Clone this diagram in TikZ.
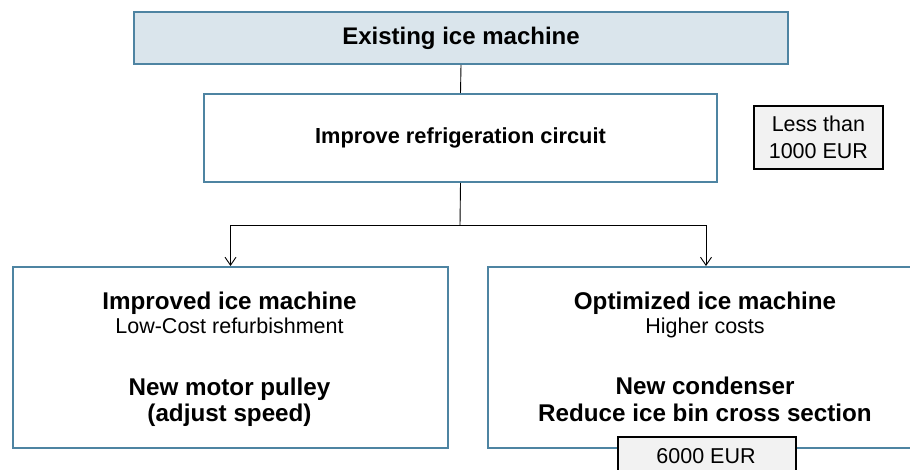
\documentclass[tikz,border=0pt]{standalone}
\usepackage{fontspec}
\setmainfont{Liberation Sans}
\usetikzlibrary{arrows.meta}
\definecolor{boxblue}{HTML}{4E84A2}
\definecolor{topfill}{HTML}{DAE5EC}
\definecolor{costfill}{HTML}{F2F2F2}
\tikzset{
  bluebox/.style={draw=boxblue, line width=2pt, rectangle, inner sep=0pt, anchor=north west},
  costbox/.style={draw=black, line width=1.8pt, fill=costfill, rectangle, inner sep=0pt, align=center, font=\fontsize{21.5}{26.5}\selectfont},
  conn/.style={draw=black, line width=0.9pt},
  arr/.style={conn, -{Straight Barb[length=8pt,width=11pt,line width=0.9pt]}},
  headtxt/.style={anchor=base, font=\fontsize{24.2}{27}\selectfont\bfseries, inner sep=0pt},
  subtxt/.style={anchor=base, font=\fontsize{21.5}{26}\selectfont, inner sep=0pt}
}
\begin{document}
\begin{tikzpicture}[x=1pt,y=-1pt]
\useasboundingbox (0,0) rectangle (910,470);
\clip (0,0) rectangle (910,470);

% top box
\node[bluebox, fill=topfill, minimum width=654pt, minimum height=52pt,
      font=\fontsize{24}{28}\selectfont\bfseries] (top) at (133,11) {Existing ice machine};

% refrigeration circuit
\node[bluebox, fill=white, minimum width=513pt, minimum height=88pt,
      font=\fontsize{21.8}{26}\selectfont\bfseries] (circ) at (203,93) {Improve refrigeration circuit};

% cost note
\node[costbox, minimum width=129pt, minimum height=63pt, anchor=north west] (less) at (753,105) {Less than\\1000 EUR};

% bottom boxes
\node[bluebox, fill=white, minimum width=435pt, minimum height=181pt] (left) at (12,266) {};
\node[bluebox, fill=white, minimum width=436pt, minimum height=181pt] (right) at (487,266) {};

% left box texts
\node[headtxt] (l1) at (229.5,309) {Improved ice machine};
\node[subtxt]  (l2) at (229.5,333.5) {Low-Cost refurbishment};
\node[headtxt] (l3) at (229.5,395.5) {New motor pulley};
\node[headtxt] (l4) at (229.5,421) {(adjust speed)};

% right box texts
\node[headtxt] (r1) at (705,309) {Optimized ice machine};
\node[subtxt]  (r2) at (705,333.5) {Higher costs};
\node[headtxt] (r3) at (705,394) {New condenser};
\node[headtxt] (r4) at (705,421.5) {Reduce ice bin cross section};

% cost box at bottom
\node[costbox, minimum width=178pt, minimum height=46pt, anchor=north west] (six) at (617,436) {};
\node[subtxt] (sixtxt) at (706,463.3) {6000 EUR};

% connectors
\coordinate (split) at (460,225);
\draw[conn] (top.south) -- (circ.north);
\draw[conn] (circ.south) -- (split);
\draw[arr] (split) -| (left.north);
\draw[arr] (split) -| (right.north);
\end{tikzpicture}
\end{document}
